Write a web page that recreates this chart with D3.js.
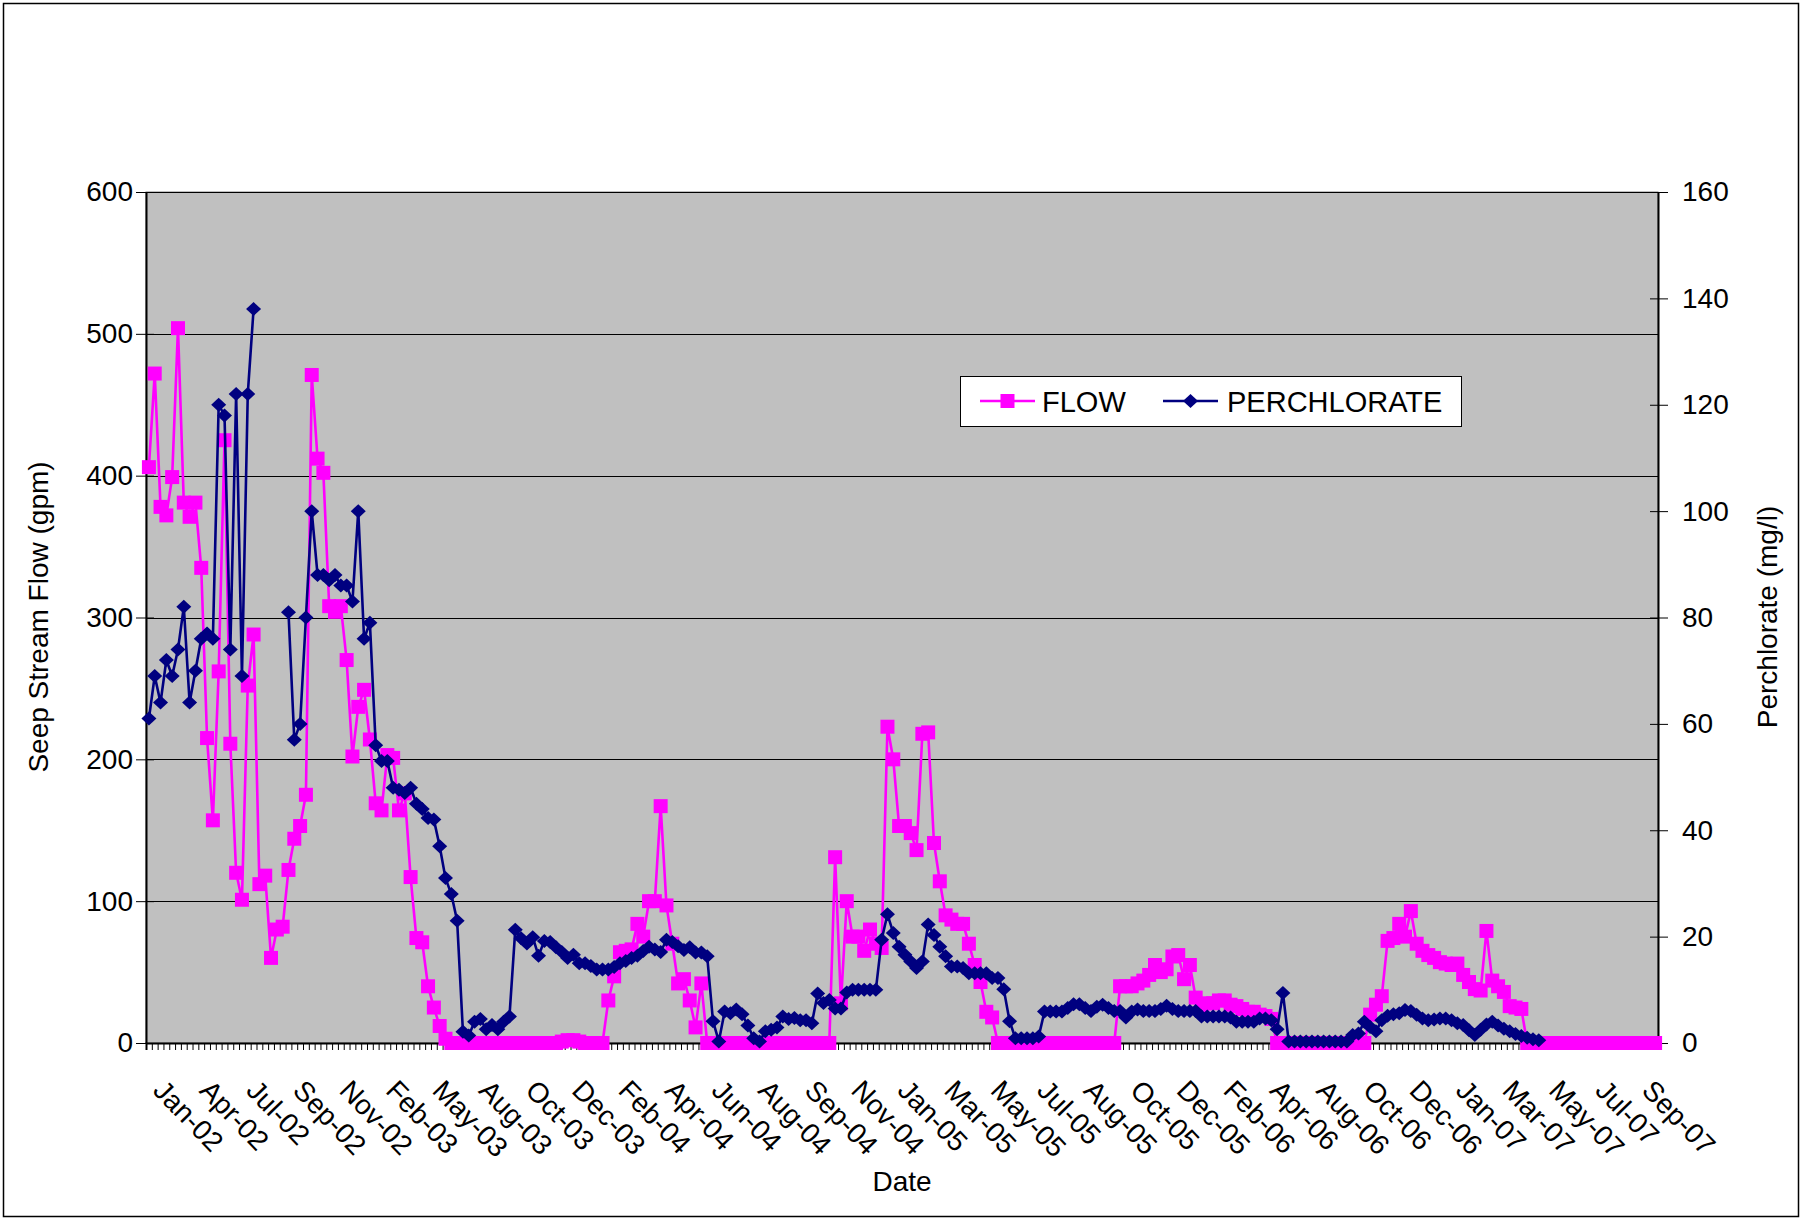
<!DOCTYPE html>
<html>
<head>
<meta charset="utf-8">
<script src="https://cdn.jsdelivr.net/npm/d3@7"></script>
<style>
  body { margin: 0; background: #fff; }
  svg { display: block; }
  text { font-family: "Liberation Sans", Arial, sans-serif; fill: #000; }
</style>
</head>
<body>
<svg id="chart" width="1803" height="1221"></svg>
<script>
// Seep stream flow (gpm), one value per sample, Jan-02 .. Sep-07
const flow = [
  406, 472, 378, 372, 399, 504, 381, 371, 381, 335,
  215, 157, 262, 425, 211, 120, 101, 252, 288, 112,
  118, 60, 80, 82, 122, 144, 153, 175, 471, 412,
  402, 308, 304, 308, 270, 202, 237, 249, 214, 169,
  164, 203, 201, 164, 176, 117, 74, 71, 40, 25,
  12, 3, 0, 0, 0, 0, 0, 0, 0, 0,
  0, 0, 0, 0, 0, 0, 0, 0, 0, 0,
  0, 1, 2, 2, 1, 0, 0, 0, 0, 30,
  47, 64, 65, 66, 84, 75, 100, 100, 167, 97,
  70, 42, 45, 30, 11, 42, 0, 0, 0, 0,
  0, 0, 0, 0, 0, 0, 0, 0, 0, 0,
  0, 0, 0, 0, 0, 0, 0, 0, 131, 28,
  100, 75, 75, 65, 80, 70, 67, 223, 200, 153,
  153, 148, 136, 218, 219, 141, 114, 90, 87, 84,
  84, 70, 55, 43, 22, 18, 0, 0, 0, 0,
  0, 0, 0, 0, 0, 0, 0, 0, 0, 0,
  0, 0, 0, 0, 0, 0, 0, 40, 40, 40,
  42, 44, 48, 55, 50, 52, 61, 62, 45, 55,
  32, 26, 28, 28, 30, 30, 27, 26, 24, 22,
  22, 20, 19, 17, 0, 0, 0, 0, 0, 0,
  0, 0, 0, 0, 0, 0, 0, 0, 0, 0,
  20, 27, 33, 72, 74, 84, 75, 93, 70, 65,
  62, 60, 57, 56, 55, 56, 48, 43, 38, 37,
  79, 44, 40, 36, 26, 25, 24, 0, 0, 0,
  0, 0, 0, 0, 0, 0, 0, 0, 0, 0,
  0, 0, 0, 0, 0, 0, 0, 0, 0, 0
];

// Perchlorate (mg/l), same samples; null where no result
const perchlorate = [
  61, 69, 64, 72, 69, 74, 82, 64, 70, 76,
  77, 76, 120, 118, 74, 122, 69, 122, 138, null,
  null, null, null, null, 81, 57, 60, 80, 100, 88,
  88, 87, 88, 86, 86, 83, 100, 76, 79, 56,
  53, 53, 48, 47.6, 47, 48, 45, 44, 42.3, 42,
  37, 31, 28, 23, 2.1, 1.4, 4, 4.5, 2.6, 3.4,
  2.6, 4, 5, 21.3, 19.7, 18.7, 19.9, 16.4, 19.2, 19,
  18, 17.1, 16, 16.6, 15, 15, 14.5, 13.8, 13.8, 13.8,
  14.3, 15, 15.4, 16, 16.4, 17.3, 18.1, 17.6, 17.1, 19.4,
  19, 18.2, 17.5, 18, 17, 17, 16.3, 4.1, 0.3, 5.9,
  5.6, 6.3, 5.4, 3.3, 0.9, 0.3, 2.2, 2.5, 2.9, 5.0,
  4.5, 4.7, 4.3, 4.3, 3.7, 9.3, 7.5, 8.1, 6.5, 6.5,
  9.5, 10, 10, 10, 10, 10, 19.4, 24.2, 20.7, 18.1,
  16.6, 15.3, 14.1, 15.3, 22.3, 20.3, 18.1, 16.3, 14.4, 14.4,
  14.1, 13.1, 13.1, 13.1, 13.1, 12.2, 12.2, 10.1, 4.1, 0.9,
  0.9, 0.9, 0.9, 1.2, 5.9, 5.9, 5.9, 5.9, 6.6, 7.3,
  7.3, 6.6, 6.0, 6.8, 7.2, 6.6, 6.0, 6.0, 4.8, 5.9,
  6.3, 6.0, 6.0, 6.0, 6.4, 7.0, 6.4, 6.0, 6.0, 6.0,
  6.0, 5.0, 5.0, 5.0, 5.0, 5.0, 4.8, 4.0, 4.0, 4.0,
  4.0, 4.6, 4.6, 4.3, 2.6, 9.4, 0.3, 0.3, 0.3, 0.3,
  0.3, 0.3, 0.3, 0.3, 0.3, 0.3, 0.3, 1.5, 1.8, 4.0,
  3.0, 2.2, 4.3, 5.1, 5.4, 5.6, 6.2, 6.0, 5.3, 4.6,
  4.3, 4.4, 4.6, 4.6, 4.3, 3.7, 3.4, 2.4, 1.5, 2.5,
  3.5, 4.0, 3.3, 2.7, 2.2, 1.7, 1.3, 1.0, 0.7, 0.5,
  null, null, null, null, null, null, null, null, null, null,
  null, null, null, null, null, null, null, null, null, null
];

// Category labels, one every `labelEvery` samples
const tickLabels = [
  "Jan-02", "Apr-02", "Jul-02", "Sep-02", "Nov-02", "Feb-03", "May-03", "Aug-03",
  "Oct-03", "Dec-03", "Feb-04", "Apr-04", "Jun-04", "Aug-04", "Sep-04", "Nov-04",
  "Jan-05", "Mar-05", "May-05", "Jul-05", "Aug-05", "Oct-05", "Dec-05", "Feb-06",
  "Apr-06", "Aug-06", "Oct-06", "Dec-06", "Jan-07", "Mar-07", "May-07", "Jul-07",
  "Sep-07"
];
const labelEvery = 8;

const flowTicks = [0, 100, 200, 300, 400, 500, 600];
const perchTicks = [0, 20, 40, 60, 80, 100, 120, 140, 160];

const seriesNames = ["FLOW", "PERCHLORATE"];
const seriesColors = ["#ff00ff", "#000080"];

const FONT = 28;
const svg = d3.select("#chart");
const plot = { left: 146, right: 1658, top: 192, bottom: 1043 };

// outer chart frame
svg.append("rect")
  .attr("x", 3.5).attr("y", 3.5).attr("width", 1795).attr("height", 1213)
  .attr("fill", "#fff").attr("stroke", "#000").attr("stroke-width", 1.5);

const n = flow.length;
const x = d3.scaleBand().domain(d3.range(n)).range([plot.left, plot.right]);
const cx = i => x(i) + x.bandwidth() / 2;
const xEdge = d3.scaleLinear().domain([0, n]).range([plot.left, plot.right]);
const yL = d3.scaleLinear().domain([0, 600]).range([plot.bottom, plot.top]);
const yR = d3.scaleLinear().domain([0, 160]).range([plot.bottom, plot.top]);

// plot area
svg.append("rect")
  .attr("x", plot.left).attr("y", plot.top)
  .attr("width", plot.right - plot.left).attr("height", plot.bottom - plot.top)
  .attr("fill", "#c0c0c0").attr("stroke", "#808080").attr("stroke-width", 1);

// horizontal gridlines
svg.append("g").selectAll("line")
  .data(flowTicks.filter(v => v > 0))
  .join("line")
  .attr("x1", plot.left).attr("x2", plot.right)
  .attr("y1", d => Math.round(yL(d)) + 0.5).attr("y2", d => Math.round(yL(d)) + 0.5)
  .attr("stroke", "#000").attr("stroke-width", 1);

// left axis
const gL = svg.append("g").attr("transform", `translate(${plot.left},0)`)
  .call(d3.axisLeft(yL).tickValues(flowTicks).tickSizeInner(10).tickSizeOuter(0).tickPadding(3));
gL.select(".domain").attr("stroke", "#000").attr("stroke-width", 2);
gL.selectAll(".tick line").attr("x1", 8).attr("stroke", "#000");
gL.selectAll(".tick text").style("font-size", FONT + "px").attr("font-family", null);

// right axis
const gR = svg.append("g").attr("transform", `translate(${plot.right},0)`)
  .call(d3.axisRight(yR).tickValues(perchTicks).tickSizeInner(10).tickSizeOuter(0).tickPadding(14));
gR.select(".domain").attr("stroke", "#000").attr("stroke-width", 2);
gR.selectAll(".tick line").attr("x1", -8).attr("stroke", "#000");
gR.selectAll(".tick text").style("font-size", FONT + "px").attr("font-family", null);

// bottom axis: one tick per sample boundary
const gB = svg.append("g").attr("transform", `translate(0,${plot.bottom})`)
  .call(d3.axisBottom(xEdge).tickValues(d3.range(n + 1)).tickSize(7).tickFormat(""));
gB.select(".domain").attr("stroke", "#000").attr("stroke-width", 2);
gB.selectAll(".tick line").attr("stroke", "#000");

// rotated category labels
const labelIdx = tickLabels.map((_, k) => k * labelEvery);
const gLab = svg.append("g").attr("transform", `translate(0,${plot.bottom})`)
  .call(d3.axisBottom(x).tickValues(labelIdx).tickSize(0)
    .tickFormat(i => tickLabels[i / labelEvery]));
gLab.select(".domain").remove();
gLab.selectAll(".tick text")
  .style("font-size", FONT + "px").attr("font-family", null)
  .attr("text-anchor", "start").attr("y", 0).attr("dy", "0.35em")
  .attr("transform", "translate(10,42) rotate(46)");

// axis titles
svg.append("text").attr("x", 902).attr("y", 1181).attr("text-anchor", "middle")
  .attr("dominant-baseline", "central").style("font-size", FONT + "px").text("Date");
svg.append("text").attr("transform", "translate(38,617) rotate(-90)").attr("text-anchor", "middle")
  .attr("dominant-baseline", "central").style("font-size", FONT + "px").text("Seep Stream Flow (gpm)");
svg.append("text").attr("transform", "translate(1767,617) rotate(-90)").attr("text-anchor", "middle")
  .attr("dominant-baseline", "central").style("font-size", FONT + "px").text("Perchlorate (mg/l)");

// series
const square = d3.symbol().type(d3.symbolSquare).size(14 * 14);
const diamondPath = "M0,-7L7.5,0L0,7L-7.5,0Z";

function drawSeries(values, yScale, color, marker) {
  const g = svg.append("g");
  const line = d3.line()
    .defined(d => d != null)
    .x((d, i) => cx(i)).y(d => yScale(d));
  g.append("path").datum(values)
    .attr("d", line).attr("fill", "none")
    .attr("stroke", color).attr("stroke-width", 2.6).attr("stroke-linejoin", "round");
  g.selectAll("path.m")
    .data(values.map((v, i) => [v, i]).filter(d => d[0] != null))
    .join("path").attr("class", "m")
    .attr("transform", d => `translate(${cx(d[1])},${yScale(d[0])})`)
    .attr("d", marker).attr("fill", color);
}
drawSeries(flow, yL, seriesColors[0], square());
drawSeries(perchlorate, yR, seriesColors[1], diamondPath);

// legend
const lg = svg.append("g").attr("transform", "translate(960,376)");
lg.append("rect").attr("x", 0.5).attr("y", 0.5).attr("width", 501).attr("height", 50)
  .attr("fill", "#fff").attr("stroke", "#000").attr("stroke-width", 1);
const legendItems = [
  { x0: 20, tx: 82, marker: square() },
  { x0: 203, tx: 267, marker: diamondPath }
];
legendItems.forEach((it, k) => {
  lg.append("line").attr("x1", it.x0).attr("x2", it.x0 + 55).attr("y1", 25).attr("y2", 25)
    .attr("stroke", seriesColors[k]).attr("stroke-width", 2.4);
  lg.append("path").attr("transform", `translate(${it.x0 + 27.5},25)`)
    .attr("d", it.marker).attr("fill", seriesColors[k]);
  lg.append("text").attr("x", it.tx).attr("y", 36).style("font-size", "29px").text(seriesNames[k]);
});
</script>
</body>
</html>
